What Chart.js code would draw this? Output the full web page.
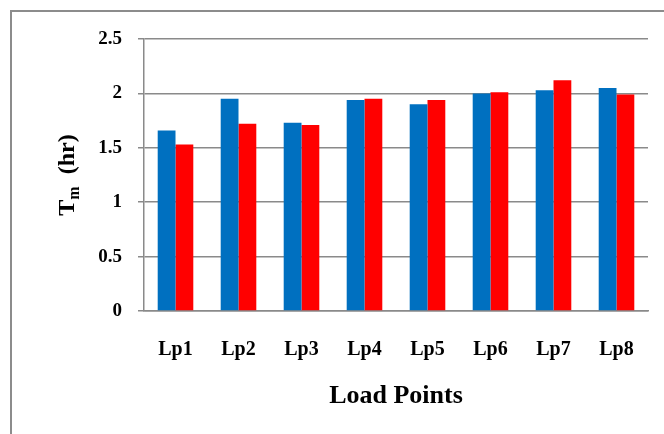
<!DOCTYPE html>
<html>
<head>
<meta charset="utf-8">
<script src="https://cdn.jsdelivr.net/npm/chart.js@4"></script>
<style>
  html, body { margin: 0; padding: 0; background: #fff; }
  #wrap { position: relative; width: 664px; height: 434px; overflow: hidden; }
  #frame {
    position: absolute; left: 10px; top: 10px; width: 700px; height: 500px;
    border-left: 2px solid #8c8c8c; border-top: 2px solid #8c8c8c;
  }
  canvas { position: absolute; left: 0; top: 0; }
</style>
</head>
<body>
<div id="wrap">
  <div id="frame"></div>
  <canvas id="chart" width="664" height="434"></canvas>
</div>
<script>
const labels = ["Lp1", "Lp2", "Lp3", "Lp4", "Lp5", "Lp6", "Lp7", "Lp8"];
const seriesBlue = [1.66, 1.95, 1.73, 1.94, 1.90, 2.00, 2.03, 2.05];
const seriesRed = [1.53, 1.72, 1.71, 1.95, 1.94, 2.01, 2.12, 1.99];
const yTicks = [0, 0.5, 1, 1.5, 2, 2.5];

const FONT = "'Liberation Serif', 'Times New Roman', serif";
const GRID = "#8a8a8a";

// y title with subscript m, drawn by hand
const yTitle = {
  id: "yTitle",
  afterDraw(chart) {
    const ctx = chart.ctx;
    const area = chart.chartArea;
    ctx.save();
    ctx.translate(66, (area.top + area.bottom) / 2);
    ctx.rotate(-Math.PI / 2);
    ctx.fillStyle = "#000";
    ctx.textBaseline = "alphabetic";
    const big = "bold 24px " + FONT;
    const small = "bold 16px " + FONT;
    ctx.font = big;
    const wT = ctx.measureText("T").width;
    const wR = ctx.measureText("  (hr)").width;
    ctx.font = small;
    const wM = ctx.measureText("m").width;
    let x = -(wT + wM + wR) / 2;
    const base = 8;
    ctx.font = big;
    ctx.fillText("T", x, base);
    x += wT;
    ctx.font = small;
    ctx.fillText("m", x, base + 5);
    x += wM;
    ctx.font = big;
    ctx.fillText("  (hr)", x, base);
    ctx.restore();
  },
};

new Chart(document.getElementById("chart"), {
  type: "bar",
  data: {
    labels: labels,
    datasets: [
      { data: seriesBlue, backgroundColor: "#0070C0", borderWidth: 0 },
      { data: seriesRed, backgroundColor: "#FF0000", borderWidth: 0 },
    ],
  },
  options: {
    responsive: false,
    animation: false,
    events: [],
    layout: { padding: { top: 39, right: 16, left: 0, bottom: 0 } },
    plugins: { legend: { display: false }, tooltip: { enabled: false } },
    datasets: { bar: { categoryPercentage: 0.565, barPercentage: 1 } },
    scales: {
      x: {
        afterFit(scale) { scale.height = 123; },
        grid: { display: false, drawTicks: false },
        border: { color: GRID, width: 1.5 },
        ticks: {
          color: "#000",
          padding: 27,
          font: { family: FONT, size: 20, weight: "bold" },
        },
        title: {
          display: true,
          text: "Load Points",
          color: "#000",
          padding: { top: 0, bottom: 22 },
          font: { family: FONT, size: 26, weight: "bold" },
        },
      },
      y: {
        min: 0,
        max: 2.5,
        afterFit(scale) { scale.width = 144; },
        afterBuildTicks(scale) { scale.ticks = yTicks.map((v) => ({ value: v })); },
        grid: { color: GRID, lineWidth: 1.5, tickLength: 6 },
        border: { color: GRID, width: 1.5 },
        ticks: {
          color: "#000",
          padding: 16,
          font: { family: FONT, size: 19, weight: "bold" },
          callback: (v) => String(v),
        },
      },
    },
  },
  plugins: [yTitle],
});
</script>
</body>
</html>
